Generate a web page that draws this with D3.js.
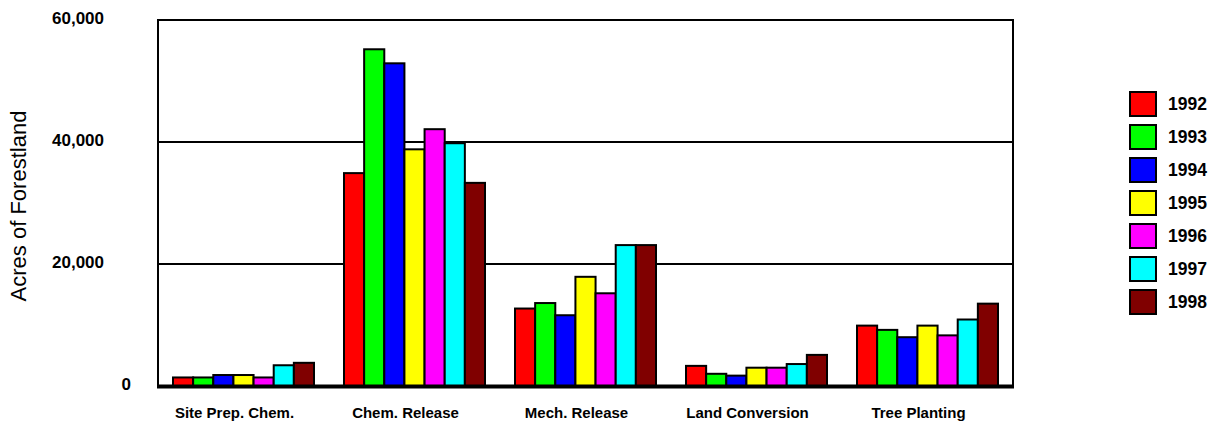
<!DOCTYPE html>
<html>
<head>
<meta charset="utf-8">
<script src="https://cdn.jsdelivr.net/npm/d3@7"></script>
<style>
  body { margin: 0; background: #fff; }
  svg { display: block; font-family: "Liberation Sans", Arial, sans-serif; }
</style>
</head>
<body>
<div id="chart"></div>
<script>
var categories = ['Site Prep. Chem.', 'Chem. Release', 'Mech. Release', 'Land Conversion', 'Tree Planting'];
var years = ['1992', '1993', '1994', '1995', '1996', '1997', '1998'];
var colors = ['#ff0000', '#00ff00', '#0000ff', '#ffff00', '#ff00ff', '#00ffff', '#800000'];

// one array per year, in category order
var v1992 = [1400, 34900, 12700, 3300, 9900];
var v1993 = [1400, 55200, 13600, 2000, 9200];
var v1994 = [1800, 52900, 11600, 1700, 8000];
var v1995 = [1800, 38800, 17900, 3000, 9900];
var v1996 = [1400, 42100, 15200, 3000, 8300];
var v1997 = [3400, 39800, 23100, 3600, 10900];
var v1998 = [3800, 33300, 23100, 5100, 13500];
var series = [v1992, v1993, v1994, v1995, v1996, v1997, v1998];

var yTicks = [0, 20000, 40000, 60000];

var width = 1217, height = 423;
var plotLeft = 158, plotRight = 1013, plotTop = 20, plotBottom = 386;

var svg = d3.select('#chart').append('svg')
    .attr('width', width)
    .attr('height', height);

var x = d3.scaleBand().domain(categories).range([plotLeft, plotRight]).paddingInner(0).paddingOuter(0);
var bandInner = 141;
var xs = d3.scaleBand().domain(years).range([(x.bandwidth() - bandInner) / 2, (x.bandwidth() + bandInner) / 2]);
var y = d3.scaleLinear().domain([0, 60000]).range([plotBottom, plotTop]);

// gridlines
svg.append('g')
    .selectAll('line')
    .data(yTicks.filter(function(d) { return d > 0; }))
    .enter()
    .append('line')
    .attr('x1', plotLeft).attr('x2', plotRight)
    .attr('y1', function(d) { return y(d); })
    .attr('y2', function(d) { return y(d); })
    .attr('stroke', '#000')
    .attr('stroke-width', 2);

// frame (left, top, right)
svg.append('path')
    .attr('d', 'M' + plotLeft + ',' + plotBottom + 'V' + plotTop + 'H' + plotRight + 'V' + plotBottom)
    .attr('fill', 'none')
    .attr('stroke', '#000')
    .attr('stroke-width', 2);

// bars
var groups = svg.append('g')
    .selectAll('g')
    .data(categories)
    .enter()
    .append('g')
    .attr('transform', function(d) { return 'translate(' + x(d) + ',0)'; });

groups.selectAll('rect')
    .data(function(d, ci) {
        return years.map(function(yr, si) { return { year: yr, value: series[si][ci], color: colors[si] }; });
    })
    .enter()
    .append('rect')
    .attr('x', function(d) { return xs(d.year); })
    .attr('width', xs.bandwidth())
    .attr('y', function(d) { return y(d.value); })
    .attr('height', function(d) { return plotBottom - y(d.value); })
    .attr('fill', function(d) { return d.color; })
    .attr('stroke', '#000')
    .attr('stroke-width', 2);

// baseline
svg.append('line')
    .attr('x1', plotLeft - 1).attr('x2', plotRight + 1)
    .attr('y1', plotBottom + 0.5).attr('y2', plotBottom + 0.5)
    .attr('stroke', '#000')
    .attr('stroke-width', 4);

// y tick labels
svg.append('g')
    .selectAll('text')
    .data(yTicks)
    .enter()
    .append('text')
    .attr('x', function(d) { return d === 0 ? 131 : 104; })
    .attr('y', function(d) { return y(d) - 2; })
    .attr('dy', '0.35em')
    .attr('text-anchor', 'end')
    .attr('font-size', 17)
    .attr('font-weight', 'bold')
    .text(function(d) { return d3.format(',')(d); });

// category labels
svg.append('g')
    .selectAll('text')
    .data(categories)
    .enter()
    .append('text')
    .attr('x', function(d) { return x(d) + x.bandwidth() / 2 - 9; })
    .attr('y', 418)
    .attr('text-anchor', 'middle')
    .attr('font-size', 15)
    .attr('font-weight', 'bold')
    .text(function(d) { return d; });

// y axis title
svg.append('text')
    .attr('transform', 'translate(26,206) rotate(-90)')
    .attr('text-anchor', 'middle')
    .attr('font-size', 22)
    .text('Acres of Forestland');

// legend
var legend = svg.append('g')
    .selectAll('g')
    .data(years)
    .enter()
    .append('g')
    .attr('transform', function(d, i) { return 'translate(1130,' + (92 + i * 33) + ')'; });

legend.append('rect')
    .attr('width', 26)
    .attr('height', 24)
    .attr('fill', function(d, i) { return colors[i]; })
    .attr('stroke', '#000')
    .attr('stroke-width', 2);

legend.append('text')
    .attr('x', 38)
    .attr('y', 12)
    .attr('dy', '0.35em')
    .attr('font-size', 17.5)
    .attr('font-weight', 'bold')
    .text(function(d) { return d; });
</script>
</body>
</html>
